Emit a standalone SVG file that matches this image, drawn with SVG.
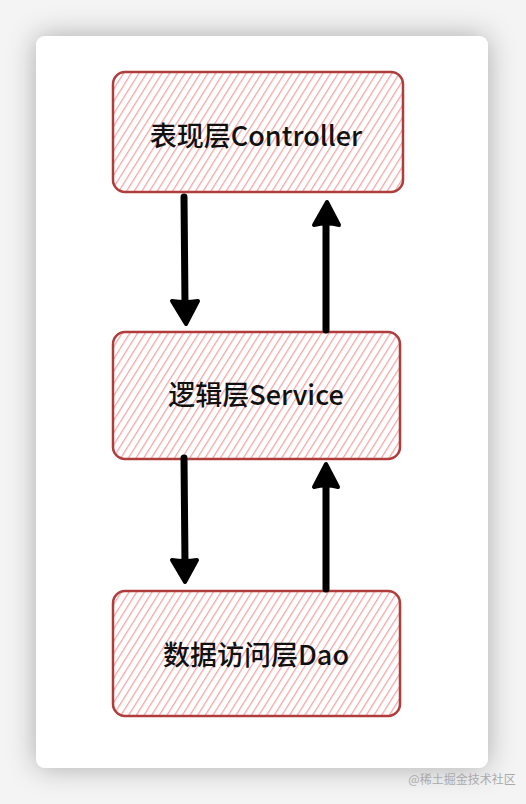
<svg xmlns="http://www.w3.org/2000/svg" width="526" height="804" viewBox="0 0 526 804">
<defs>
<pattern id="hatch" patternUnits="userSpaceOnUse" width="6.5" height="10" patternTransform="rotate(32)">
<line x1="0" y1="-2" x2="0" y2="12" stroke="#eea8a8" stroke-width="2.6"/>
</pattern>
<filter id="shadow" x="-20%" y="-20%" width="140%" height="140%">
<feDropShadow dx="0" dy="0" stdDeviation="14" flood-color="#000" flood-opacity="0.3"/>
</filter>
<style>
.box{fill:url(#hatch);stroke:#b03c3c;stroke-width:2.5}
.lbl{font-family:"Noto Sans CJK SC","Noto Sans",sans-serif;font-size:27px;font-weight:500;fill:#111;text-anchor:middle}
.conn{stroke:#000;stroke-width:7;stroke-linecap:round;fill:none}
.head{fill:#000;stroke:#000;stroke-width:4;stroke-linejoin:round}
</style>
</defs>
<rect width="526" height="804" fill="#f4f4f4"/>
<rect x="36" y="36" width="452" height="732" rx="9" fill="#fff" filter="url(#shadow)"/>
<g id="n1">
<rect class="box" x="113" y="72" width="290" height="120" rx="12"/>
<text class="lbl" x="256" y="146">表现层Controller</text>
</g>
<g id="n2">
<rect class="box" x="113" y="332" width="287" height="127" rx="12"/>
<text class="lbl" x="256" y="405">逻辑层Service</text>
</g>
<g id="n3">
<rect class="box" x="113" y="591" width="287" height="125" rx="12"/>
<text class="lbl" x="256" y="665">数据访问层Dao</text>
</g>
<g id="connectors">
<path class="conn" d="M184 197 L185 305"/>
<path class="head" d="M172 301 Q185 303 198 301 L186 324 Z"/>
<path class="conn" d="M326 330 L326 222"/>
<path class="head" d="M314 225 Q327 222 339 225 L327 202 Z"/>
<path class="conn" d="M184 458 L185 563"/>
<path class="head" d="M172 560 Q185 562 197 560 L185 582 Z"/>
<path class="conn" d="M326 589 L326 484"/>
<path class="head" d="M314 487 Q326 484 338 487 L326 464 Z"/>
</g>
<text x="462" y="784" font-family="Noto Sans CJK SC,sans-serif" font-size="12" fill="#aaa" text-anchor="middle">@稀土掘金技术社区</text>
</svg>
